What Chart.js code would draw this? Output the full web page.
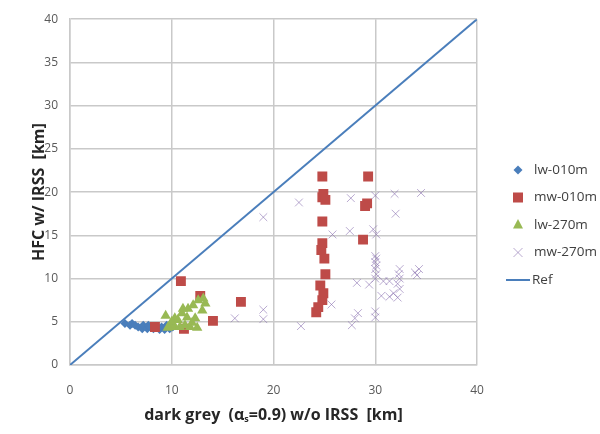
<!DOCTYPE html>
<html><head><meta charset="utf-8">
<script src="https://cdn.jsdelivr.net/npm/chart.js@4"></script>
<style>html,body{margin:0;padding:0;background:#fff}</style>
</head><body>
<canvas id="c" width="600" height="434"></canvas>
<script>
// ---- data ----
const seriesNames = ['lw-010m', 'mw-010m', 'lw-270m', 'mw-270m', 'Ref'];
const xTicks = [0, 10, 20, 30, 40];
const yTicks = [0, 5, 10, 15, 20, 25, 30, 35, 40];

const lw010X = [5.4, 5.9, 6.1, 6.4, 6.7, 7.1, 7.2, 7.6, 7.7, 7.9, 8.2, 8.6, 8.8, 9.0, 9.3, 9.5, 9.8, 10.1];
const lw010Y = [4.8, 4.6, 4.8, 4.6, 4.4, 4.2, 4.6, 4.2, 4.6, 4.4, 4.2, 4.4, 4.1, 4.4, 4.1, 4.6, 4.2, 4.4];

const mw010X = [8.35, 10.9, 11.2, 12.8, 14.05, 16.8, 24.8, 24.9, 24.8, 25.1, 24.8, 24.8, 24.7, 25.0, 25.1, 24.6, 24.9, 24.8, 24.4, 24.2, 29.3, 29.2, 29.0, 28.8];
const mw010Y = [4.4, 9.7, 4.2, 8.0, 5.1, 7.3, 21.8, 19.8, 19.4, 19.1, 16.6, 14.1, 13.3, 12.3, 10.5, 9.2, 8.3, 7.5, 6.7, 6.1, 21.8, 18.7, 18.4, 14.5];

const lw270X = [9.4, 9.8, 10.3, 10.6, 11.0, 11.3, 11.6, 12.0, 12.1, 12.3, 12.6, 13.1, 13.0, 13.3, 11.5, 10.8, 11.8, 11.1, 10.3, 12.5, 9.6, 10.0];
const lw270Y = [5.7, 4.6, 4.4, 5.2, 6.0, 4.6, 6.5, 4.9, 6.9, 5.4, 7.5, 7.7, 6.3, 7.1, 5.5, 4.4, 4.4, 6.5, 5.4, 4.3, 4.3, 5.0];

const mw270X = [16.2, 19.0, 19.0, 19.0, 22.5, 22.7, 25.8, 25.7, 27.6, 27.5, 30.0, 31.9, 34.5, 32.0, 29.8, 30.1,
  30.0, 30.1, 30.0, 30.1, 30.0, 30.1, 30.0, 32.4, 32.3, 32.4, 32.2, 32.4, 33.9, 34.3, 34.1,
  28.2, 29.4, 30.8, 31.4, 30.6, 31.4, 32.2, 31.8, 28.3, 28.0, 27.7, 30.0, 30.0];
const mw270Y = [5.4, 6.4, 5.3, 17.1, 18.8, 4.5, 15.1, 7.0, 19.3, 15.5, 19.6, 19.8, 19.9, 17.5, 15.7, 15.1,
  12.6, 12.3, 11.9, 11.5, 11.1, 10.5, 10.0, 11.1, 10.5, 10.0, 9.4, 8.8, 10.7, 11.1, 10.4,
  9.5, 9.3, 9.7, 9.7, 8.0, 7.9, 7.8, 8.3, 6.0, 5.4, 4.6, 6.2, 5.5];

const refX = [0, 40];
const refY = [0, 40];

// ---- styles ----
const BLUE = '#4a7ebb', RED = '#be4b48', GREEN = '#98b954', PURPLE = 'rgba(128,100,170,0.55)';
const GRID = '#c9c9c9';
const FONT = '"Open Sans", "Liberation Sans", sans-serif';

function pts(xs, ys) { return xs.map((x, i) => ({ x: x, y: ys[i] })); }

const datasets = [
  { label: seriesNames[0], data: pts(lw010X, lw010Y), pointStyle: 'rectRot', pointRadius: 4.5,
    backgroundColor: BLUE, borderColor: BLUE, borderWidth: 0, order: 5 },
  { label: seriesNames[1], data: pts(mw010X, mw010Y), pointStyle: 'rect', pointRadius: 7,
    backgroundColor: RED, borderColor: RED, borderWidth: 0, order: 4 },
  { label: seriesNames[2], data: pts(lw270X, lw270Y), pointStyle: 'triangle', pointRadius: 6,
    backgroundColor: GREEN, borderColor: GREEN, borderWidth: 0, order: 3 },
  { label: seriesNames[3], data: pts(mw270X, mw270Y), pointStyle: 'crossRot', pointRadius: 5.5,
    backgroundColor: PURPLE, borderColor: PURPLE, borderWidth: 1, order: 2 },
  { label: seriesNames[4], type: 'line', data: pts(refX, refY), borderColor: BLUE, borderWidth: 2,
    pointRadius: 0, fill: false, order: 1 }
];

function drawMarker(ctx, style, x, y) {
  ctx.save();
  if (style === 0) { ctx.fillStyle = BLUE; ctx.beginPath(); ctx.moveTo(x, y - 4.5); ctx.lineTo(x + 4.5, y); ctx.lineTo(x, y + 4.5); ctx.lineTo(x - 4.5, y); ctx.closePath(); ctx.fill(); }
  if (style === 1) { ctx.fillStyle = RED; ctx.fillRect(x - 5, y - 5, 10, 10); }
  if (style === 2) { ctx.fillStyle = GREEN; ctx.beginPath(); ctx.moveTo(x, y - 6); ctx.lineTo(x + 5, y + 3.5); ctx.lineTo(x - 5, y + 3.5); ctx.closePath(); ctx.fill(); }
  if (style === 3) { ctx.strokeStyle = PURPLE; ctx.lineWidth = 1; ctx.beginPath(); ctx.moveTo(x - 4.5, y - 4.5); ctx.lineTo(x + 4.5, y + 4.5); ctx.moveTo(x + 4.5, y - 4.5); ctx.lineTo(x - 4.5, y + 4.5); ctx.stroke(); }
  if (style === 4) { ctx.strokeStyle = BLUE; ctx.lineWidth = 2; ctx.beginPath(); ctx.moveTo(x - 12, y); ctx.lineTo(x + 12, y); ctx.stroke(); }
  ctx.restore();
}

const extras = {
  id: 'extras',
  afterDraw(chart) {
    const ctx = chart.ctx, a = chart.chartArea;
    ctx.save();
    // y title
    ctx.fillStyle = '#262626';
    ctx.font = 'bold 16px ' + FONT;
    ctx.textAlign = 'center'; ctx.textBaseline = 'middle';
    ctx.translate(39, (a.top + a.bottom) / 2);
    ctx.rotate(-Math.PI / 2);
    ctx.fillText('HFC w/ IRSS  [km]', 0, 0);
    ctx.restore();
    // x title with subscript
    ctx.save();
    ctx.fillStyle = '#262626';
    ctx.textBaseline = 'alphabetic'; ctx.textAlign = 'left';
    const p1 = 'dark grey  (\u03b1', p2 = 's', p3 = '=0.9) w/o IRSS  [km]';
    const fMain = 'bold 16px ' + FONT, fSub = 'bold 9px ' + FONT;
    ctx.font = fMain; const w1 = ctx.measureText(p1).width, w3 = ctx.measureText(p3).width;
    ctx.font = fSub; const w2 = ctx.measureText(p2).width;
    const total = w1 + w2 + w3;
    let x = (a.left + a.right) / 2 - total / 2; const yb = 420;
    ctx.font = fMain; ctx.fillText(p1, x, yb); x += w1;
    ctx.font = fSub; ctx.fillText(p2, x, yb + 2); x += w2;
    ctx.font = fMain; ctx.fillText(p3, x, yb);
    ctx.restore();
    // legend
    ctx.save();
    ctx.font = '13.5px ' + FONT; ctx.fillStyle = '#404040';
    ctx.textAlign = 'left'; ctx.textBaseline = 'middle';
    const ly0 = 170, dy = 27.5;
    seriesNames.forEach((n, i) => {
      const yy = ly0 + i * dy;
      drawMarker(ctx, i, 518, yy);
      ctx.fillText(n, i === 4 ? 532 : 534, yy);
    });
    ctx.restore();
  }
};

new Chart(document.getElementById('c'), {
  type: 'scatter',
  data: { datasets: datasets },
  options: {
    responsive: false, animation: false,
    layout: { padding: { top: 16, right: 123, left: 0, bottom: 0 } },
    plugins: { legend: { display: false }, tooltip: { enabled: false } },
    scales: {
      x: {
        type: 'linear', min: 0, max: 40,
        afterBuildTicks: s => { s.ticks = xTicks.map(v => ({ value: v })); },
        afterFit: s => { s.height = 69; },
        ticks: { color: '#595959', font: { family: FONT, size: 12 }, padding: 18 },
        grid: { color: GRID, lineWidth: 1.5, drawTicks: false },
        border: { color: GRID, width: 1.5 }
      },
      y: {
        type: 'linear', min: 0, max: 40,
        afterBuildTicks: s => { s.ticks = yTicks.map(v => ({ value: v })); },
        afterFit: s => { s.width = 70; },
        ticks: { color: '#595959', font: { family: FONT, size: 12 }, padding: 12 },
        grid: { color: GRID, lineWidth: 1.5, drawTicks: false },
        border: { color: GRID, width: 1.5 }
      }
    }
  },
  plugins: [extras]
});
</script>
</body></html>
